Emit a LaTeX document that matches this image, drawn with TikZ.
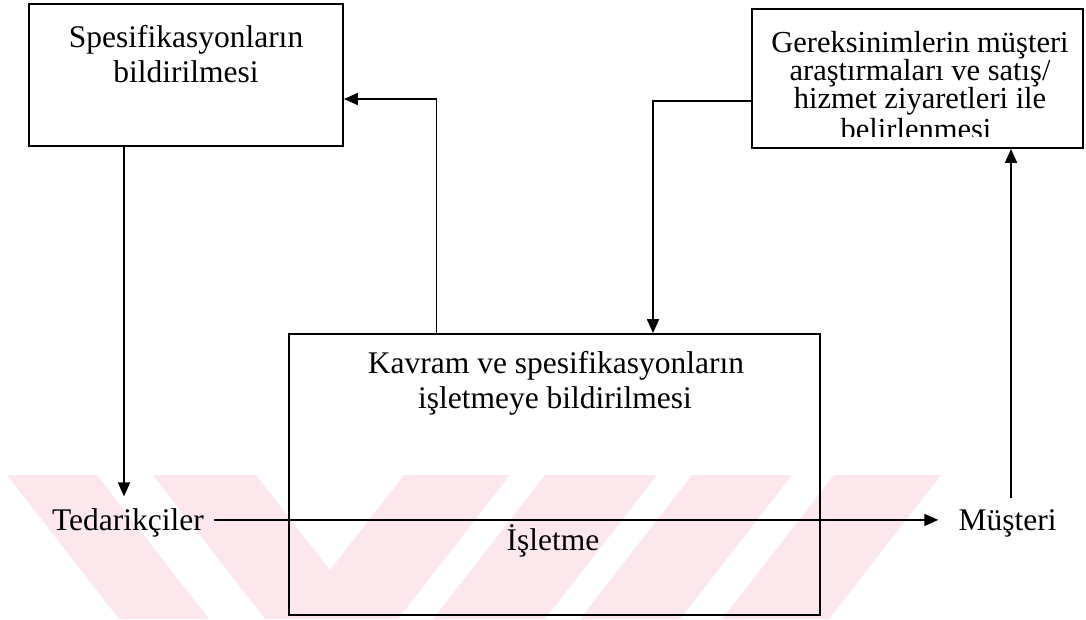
\documentclass[tikz,border=0pt]{standalone}
\usepackage{fontspec}
\setmainfont{Liberation Serif}
\usetikzlibrary{arrows.meta}
\definecolor{wm}{RGB}{252,232,236}
\begin{document}
\begin{tikzpicture}[x=1pt,y=-1pt,
  box/.style={draw, line width=1.8pt, inner sep=0pt},
  txt/.style={inner sep=0pt, font=\fontsize{31.5}{35}\selectfont},
  stxt/.style={inner sep=0pt, font=\fontsize{30.5}{33}\selectfont},
  arr/.style={line width=1.8pt, -{Triangle[length=14pt,width=12pt]}}]
\useasboundingbox (0,0) rectangle (1086,619);
% faint watermark
\fill[wm] (7,475) -- (97,475) -- (209,619) -- (119,619) -- cycle;
\fill[wm] (153,475) -- (256,475) -- (330,570) -- (404,475) -- (510,475) -- (398,619) -- (265,619) -- cycle;
\fill[wm] (545,475) -- (657,475) -- (545,619) -- (433,619) -- cycle;
\fill[wm] (692,475) -- (792,475) -- (680,619) -- (580,619) -- cycle;
\fill[wm] (834,475) -- (941,475) -- (829,619) -- (722,619) -- cycle;
% boxes
\node[box, minimum width=314pt, minimum height=142pt] (spec) at (186,75) {};
\node[box, minimum width=331pt, minimum height=139pt] (ger) at (917.5,78.5) {};
\node[box, minimum width=531pt, minimum height=281pt] (isl) at (554.5,474.5) {};
% texts
\node[txt, anchor=base] (specA) at (186,47) {Spesifikasyonların};
\node[txt, anchor=base] (specB) at (186,82) {bildirilmesi};
\node[stxt, anchor=base] (gerA) at (920,52) {Gereksinimlerin müşteri};
\node[stxt, anchor=base] (gerB) at (920,80) {araştırmaları ve satış/};
\node[stxt, anchor=base] (gerC) at (920,108) {hizmet ziyaretleri ile};
\begin{scope}
  \clip (752,0) rectangle (1083,136);
  \node[stxt, anchor=base] (gerD) at (916,139) {belirlenmesi};
\end{scope}
\node[txt, anchor=base] (islA) at (556,373) {Kavram ve spesifikasyonların};
\node[txt, anchor=base] (islB) at (555,408) {işletmeye bildirilmesi};
\node[txt, anchor=base] (islC) at (553,550) {İşletme};
\node[txt, anchor=base] (ted) at (128,530) {Tedarikçiler};
\node[txt, anchor=base] (mus) at (1007.5,530) {Müşteri};
% connectors
\draw[arr, shorten >=11.5pt] ([xshift=-62pt]spec.south) -- ([xshift=-62pt]spec.south |- ted.north);
\draw[arr] ([xshift=10pt,yshift=2.5pt]ted.east) -- ([xshift=-20pt,yshift=2.5pt]mus.west |- ted.east);
\draw[arr] ([xshift=3.5pt,yshift=11pt]mus.north) -- ([xshift=3.5pt]mus.north |- ger.south);
\draw[arr] ([xshift=-118pt]isl.north) |- ([yshift=-24pt]spec.east);
\draw[arr] ([yshift=-22.5pt]ger.west) -| ([xshift=98.5pt]isl.north);
\end{tikzpicture}
\end{document}
